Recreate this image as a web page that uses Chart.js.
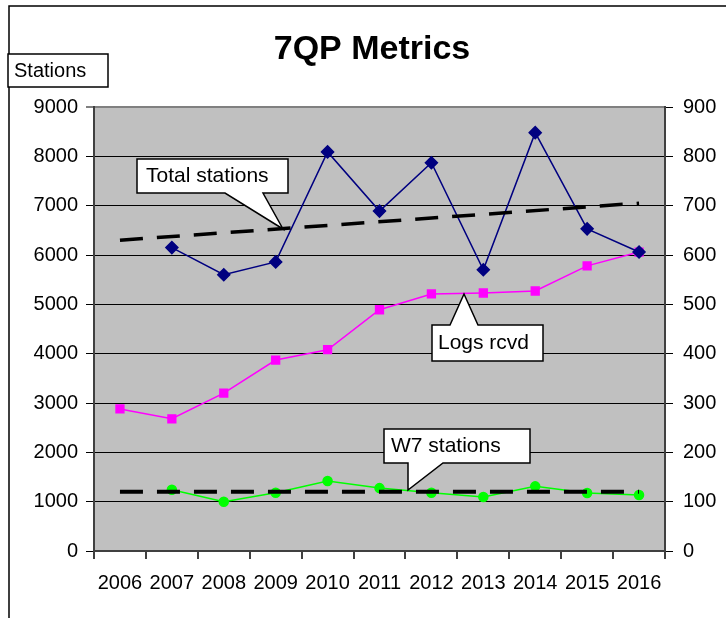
<!DOCTYPE html>
<html>
<head>
<meta charset="utf-8">
<script src="https://cdn.jsdelivr.net/npm/chart.js@4"></script>
<style>
    html, body { margin: 0; padding: 0; background: #fff; }
    #wrap { width: 726px; height: 618px; position: relative; }
</style>
</head>
<body>
<div id="wrap"><canvas id="myChart" width="726" height="618"></canvas></div>
<script>
const years = ['2006', '2007', '2008', '2009', '2010', '2011', '2012', '2013', '2014', '2015', '2016'];
const totalStations = [null, 6150, 5600, 5860, 8090, 6890, 7870, 5700, 8480, 6530, 6060];
const totalTrend = [6300, null, null, null, null, null, null, null, null, null, 7050];
const w7Stations = [null, 1240, 1000, 1180, 1420, 1275, 1180, 1095, 1310, 1175, 1135];
const w7Trend = [1200, null, null, null, null, null, null, null, null, null, 1200];
const logsRcvd = [288, 268, 320, 387, 408, 489, 521, 523, 527, 578, 606];

const FONT = "'Liberation Sans', Arial, sans-serif";

// gray plot area, frame, title and callout boxes
const decorations = {
    id: 'decorations',
    beforeDraw: function (chart) {
        const c = chart.ctx;
        const a = chart.chartArea;
        c.save();
        c.fillStyle = '#c0c0c0';
        c.fillRect(a.left, a.top, a.right - a.left, a.bottom - a.top);
        c.strokeStyle = '#000';
        c.lineWidth = 1.5;
        c.beginPath();
        c.moveTo(9, 618);
        c.lineTo(9, 6);
        c.lineTo(726, 6);
        c.stroke();
        c.fillStyle = '#000';
        c.font = 'bold 34px ' + FONT;
        c.textAlign = 'center';
        c.textBaseline = 'middle';
        c.fillText('7QP Metrics', 372, 50);
        c.restore();
    },
    afterDraw: function (chart) {
        const c = chart.ctx;
        c.save();
        // Stations axis label
        c.fillStyle = '#fff';
        c.strokeStyle = '#000';
        c.lineWidth = 1.5;
        c.fillRect(8, 54, 100, 33);
        c.strokeRect(8, 54, 100, 33);
        c.fillStyle = '#000';
        c.font = '20px ' + FONT;
        c.textBaseline = 'middle';
        c.fillText('Stations', 14, 71);

        callout(c, [[137, 159], [288, 159], [288, 193], [263, 193], [283, 229], [225, 193], [137, 193]], 'Total stations', 146, 176);
        callout(c, [[432, 325], [450, 325], [464, 294], [478, 325], [543, 325], [543, 361], [432, 361]], 'Logs rcvd', 438, 343);
        callout(c, [[384, 429], [530, 429], [530, 463], [443, 463], [408, 490], [408, 463], [384, 463]], 'W7 stations', 391, 446);
        c.restore();
    }
};

function callout(c, pts, text, tx, ty) {
    c.beginPath();
    c.moveTo(pts[0][0], pts[0][1]);
    for (let i = 1; i < pts.length; i++) {
        c.lineTo(pts[i][0], pts[i][1]);
    }
    c.closePath();
    c.fillStyle = '#fff';
    c.fill();
    c.strokeStyle = '#000';
    c.lineWidth = 1.5;
    c.stroke();
    c.fillStyle = '#000';
    c.font = '21px ' + FONT;
    c.textAlign = 'left';
    c.textBaseline = 'middle';
    c.fillText(text, tx, ty);
}

function plainTick(value) {
    return String(value);
}

const data = {
    labels: years,
    datasets: [{
        label: 'Total trend',
        data: totalTrend,
        yAxisID: 'y',
        borderColor: '#000',
        borderWidth: 3.5,
        borderDash: [23, 14],
        pointRadius: 0,
        spanGaps: true
    }, {
        label: 'W7 trend',
        data: w7Trend,
        yAxisID: 'y',
        borderColor: '#000',
        borderWidth: 4,
        borderDash: [23, 14],
        pointRadius: 0,
        spanGaps: true
    }, {
        label: 'Total stations',
        data: totalStations,
        yAxisID: 'y',
        borderColor: '#000080',
        backgroundColor: '#000080',
        borderWidth: 1.5,
        pointStyle: 'rectRot',
        pointRadius: 6
    }, {
        label: 'W7 stations',
        data: w7Stations,
        yAxisID: 'y',
        borderColor: '#00ff00',
        backgroundColor: '#00ff00',
        borderWidth: 1.5,
        pointStyle: 'circle',
        pointRadius: 4.5
    }, {
        label: 'Logs rcvd',
        data: logsRcvd,
        yAxisID: 'y2',
        borderColor: '#ff00ff',
        backgroundColor: '#ff00ff',
        borderWidth: 1.5,
        pointStyle: 'rect',
        pointRadius: 5.5
    }]
};

const tickFont = { family: FONT, size: 20 };

const config = {
    type: 'line',
    data: data,
    options: {
        responsive: false,
        animation: false,
        layout: { padding: { top: 107, left: 0, right: 0, bottom: 0 } },
        plugins: {
            legend: { display: false },
            tooltip: { enabled: false }
        },
        scales: {
            x: {
                offset: true,
                grid: { offset: true, drawOnChartArea: false, tickLength: 8, color: '#404040', lineWidth: 2 },
                border: { color: '#404040', width: 2 },
                ticks: { color: '#000', font: tickFont, padding: 12, autoSkip: false, maxRotation: 0 },
                afterFit: function (scale) { scale.height = 67; }
            },
            y: {
                position: 'left',
                min: 0,
                max: 9000,
                ticks: { stepSize: 1000, color: '#000', font: tickFont, padding: 8, callback: plainTick },
                grid: {
                    tickLength: 8,
                    color: function (ctx) { return ctx.tick && ctx.tick.value === 9000 ? '#808080' : '#000'; },
                    lineWidth: function (ctx) { return ctx.tick && ctx.tick.value === 9000 ? 2 : 1; }
                },
                border: { color: '#404040', width: 2 },
                afterFit: function (scale) { scale.width = 94; }
            },
            y2: {
                position: 'right',
                min: 0,
                max: 900,
                ticks: { stepSize: 100, color: '#000', font: tickFont, padding: 10, callback: plainTick },
                grid: { drawOnChartArea: false, tickLength: 8, color: '#000' },
                border: { color: '#404040', width: 2 },
                afterFit: function (scale) { scale.width = 61; }
            }
        }
    },
    plugins: [decorations]
};

const myChart = new Chart(
    document.getElementById('myChart'),
    config
);
</script>
</body>
</html>
